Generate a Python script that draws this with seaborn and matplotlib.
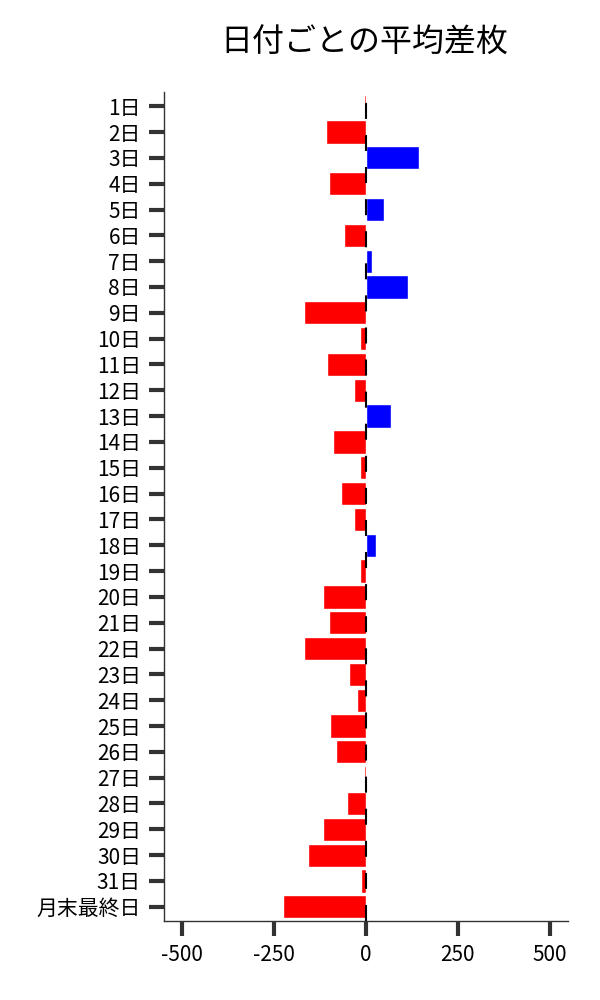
import matplotlib
matplotlib.use("Agg")
import matplotlib.pyplot as plt
import seaborn as sns
import pandas as pd

# 日付ラベルと平均差枚
days = [f"{i}日" for i in range(1, 32)] + ["月末最終日"]
avg_diff = [-5, -110, 145, -102, 50, -59, 16, 114, -170, -15,
            -105, -32, 69, -91, -15, -67, -32, 27, -15, -116,
            -100, -170, -45, -24, -97, -81, -5, -53, -116, -159,
            -13, -227]
xticks = [-500, -250, 0, 250, 500]

df = pd.DataFrame({"day": days, "diff": avg_diff})
df["sign"] = ["plus" if v > 0 else "minus" for v in df["diff"]]

sns.set_theme(style="ticks")
plt.rcParams["font.family"] = ["Noto Sans CJK JP", "DejaVu Sans"]

fig = plt.figure(figsize=(6, 10), dpi=100)
ax = fig.add_axes([0.273, 0.079, 0.674, 0.829])

sns.barplot(data=df, x="diff", y="day", hue="sign", orient="h",
            palette={"plus": "blue", "minus": "red"}, width=0.9,
            saturation=1, legend=False, ax=ax)
ax.axvline(0, color="black", linewidth=1.5, dashes=(7.7, 7.7))

ax.set_xlim(-550, 550)
ax.set_ylim(len(days) - 0.45, -0.55)
ax.set_xticks(xticks)
ax.set_xticklabels([str(t) for t in xticks])
ax.set_xlabel("")
ax.set_ylabel("")
ax.tick_params(axis="both", length=10.5, width=3, color="#333333",
               labelsize=15, labelcolor="black", pad=6)
sns.despine(ax=ax)
for s in ["left", "bottom"]:
    ax.spines[s].set_color("#333333")
    ax.spines[s].set_linewidth(1)

fig.text(0.608, 0.957, "日付ごとの平均差枚", ha="center", va="center",
         fontsize=23, color="black")

fig.savefig("out.png", dpi=100)
